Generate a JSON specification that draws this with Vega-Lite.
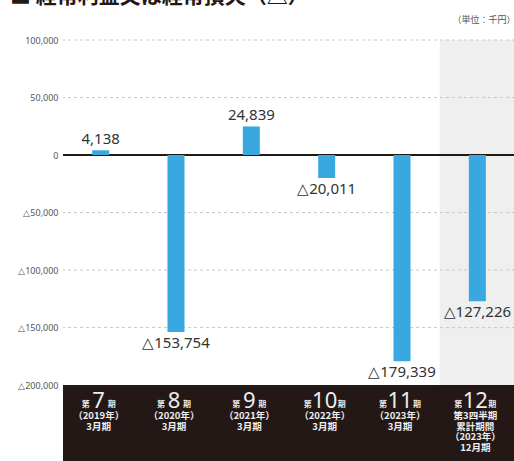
{
  "$schema": "https://vega.github.io/schema/vega-lite/v6.json",
  "autosize": {"type": "none"},
  "width": 452,
  "height": 421,
  "padding": {"left": 63, "top": 40, "right": 0, "bottom": 0},
  "background": "#ffffff",
  "config": {"view": {"stroke": null}, "font": "Noto Sans CJK JP"},
  "title": {
    "text": "■ 経常利益又は経常損失（△）",
    "anchor": "start",
    "frame": "group",
    "fontSize": 21,
    "fontWeight": "bold",
    "color": "#231815",
    "font": "Noto Sans CJK JP",
    "dx": -53,
    "dy": 15,
    "offset": 6,
    "baseline": "alphabetic"
  },
  "datasets": {
    "main": [
      {"n": "7", "digits": 1, "sub": "（2019年）\n3月期", "value": 4138, "label": "4,138"},
      {"n": "8", "digits": 1, "sub": "（2020年）\n3月期", "value": -153754, "label": "△153,754"},
      {"n": "9", "digits": 1, "sub": "（2021年）\n3月期", "value": 24839, "label": "24,839"},
      {"n": "10", "digits": 2, "sub": "（2022年）\n3月期", "value": -20011, "label": "△20,011"},
      {"n": "11", "digits": 2, "sub": "（2023年）\n3月期", "value": -179339, "label": "△179,339"},
      {"n": "12", "digits": 2, "sub": "第3四半期\n累計期間\n（2023年）\n12月期", "value": -127226, "label": "△127,226"}
    ],
    "grid": [{"g": 100000}, {"g": 50000}, {"g": -50000}, {"g": -100000}, {"g": -150000}]
  },
  "data": {"name": "main"},
  "encoding": {
    "x": {
      "field": "n",
      "type": "nominal",
      "sort": ["7", "8", "9", "10", "11", "12"],
      "scale": {"paddingInner": 0, "paddingOuter": 0},
      "axis": {
        "orient": "top",
        "labels": false,
        "ticks": false,
        "domain": false,
        "title": "（単位：千円）",
        "titleAnchor": "end",
        "titleFontSize": 9,
        "titleFontWeight": "normal",
        "titleColor": "#555555",
        "titlePadding": 16
      }
    }
  },
  "layer": [
    {
      "transform": [{"filter": "datum.n == '12'"}],
      "mark": {"type": "bar", "color": "#efefef"},
      "encoding": {
        "y": {"datum": 100000, "type": "quantitative", "scale": {"domain": [-266000, 100000], "nice": false, "zero": false},
          "axis": {
            "values": [100000, 50000, 0, -50000, -100000, -150000, -200000],
            "labelExpr": "datum.value < 0 ? '△' + format(-datum.value, ',') : format(datum.value, ',')",
            "labelFontSize": 9,
            "labelColor": "#555555",
            "labelFont": "Noto Sans",
            "labelPadding": 5,
            "ticks": false,
            "domain": false,
            "grid": false,
            "title": null
          }
        },
        "y2": {"datum": -200000}
      }
    },
    {
      "data": {"name": "grid"},
      "mark": {"type": "rule", "color": "#c8c8c8", "strokeDash": [3, 3], "strokeWidth": 1},
      "encoding": {"y": {"field": "g", "type": "quantitative"}, "x": null}
    },
    {
      "data": {"values": [{"band": "bottom"}]},
      "mark": {"type": "rect", "color": "#231815"},
      "encoding": {"y": {"datum": -200000}, "y2": {"datum": -266000}, "x": null}
    },
    {
      "mark": {"type": "rule", "color": "#231815", "strokeWidth": 1.5},
      "encoding": {"y": {"datum": 0}, "x": null}
    },
    {
      "mark": {"type": "bar", "color": "#3aa8e0", "width": {"band": 0.226}},
      "encoding": {"y": {"field": "value", "type": "quantitative"}, "y2": {"datum": 0}}
    },
    {
      "transform": [{"filter": "datum.value > 0"}],
      "mark": {"type": "text", "baseline": "alphabetic", "dy": -6, "fontSize": 15, "color": "#333333", "font": "Noto Sans"},
      "encoding": {"y": {"field": "value", "type": "quantitative"}, "text": {"field": "label"}}
    },
    {
      "transform": [{"filter": "datum.value < 0"}],
      "mark": {"type": "text", "baseline": "top", "dy": 4, "fontSize": 15, "color": "#333333", "font": "Noto Sans"},
      "encoding": {"y": {"field": "value", "type": "quantitative"}, "text": {"field": "label"}}
    },
    {
      "mark": {"type": "text", "baseline": "alphabetic", "dy": 23, "dx": -2, "fontSize": 22, "color": "#eeeeee", "font": "Noto Sans"},
      "encoding": {"y": {"datum": -200000}, "text": {"field": "n"}}
    },
    {
      "transform": [{"filter": "datum.digits == 1"}],
      "mark": {"type": "text", "baseline": "alphabetic", "align": "right", "dy": 22, "dx": -11, "fontSize": 8, "fontWeight": "bold", "color": "#eeeeee"},
      "encoding": {"y": {"datum": -200000}, "text": {"value": "第"}}
    },
    {
      "transform": [{"filter": "datum.digits == 1"}],
      "mark": {"type": "text", "baseline": "alphabetic", "align": "left", "dy": 22, "dx": 7, "fontSize": 8, "fontWeight": "bold", "color": "#eeeeee"},
      "encoding": {"y": {"datum": -200000}, "text": {"value": "期"}}
    },
    {
      "transform": [{"filter": "datum.digits == 2"}],
      "mark": {"type": "text", "baseline": "alphabetic", "align": "right", "dy": 22, "dx": -15, "fontSize": 8, "fontWeight": "bold", "color": "#eeeeee"},
      "encoding": {"y": {"datum": -200000}, "text": {"value": "第"}}
    },
    {
      "transform": [{"filter": "datum.digits == 2"}],
      "mark": {"type": "text", "baseline": "alphabetic", "align": "left", "dy": 22, "dx": 11, "fontSize": 8, "fontWeight": "bold", "color": "#eeeeee"},
      "encoding": {"y": {"datum": -200000}, "text": {"value": "期"}}
    },
    {
      "mark": {"type": "text", "baseline": "top", "dy": 26, "dx": -2, "fontSize": 9.5, "fontWeight": "bold", "lineBreak": "\n", "lineHeight": 10.5, "color": "#eeeeee"},
      "encoding": {"y": {"datum": -200000}, "text": {"field": "sub"}}
    }
  ]
}
